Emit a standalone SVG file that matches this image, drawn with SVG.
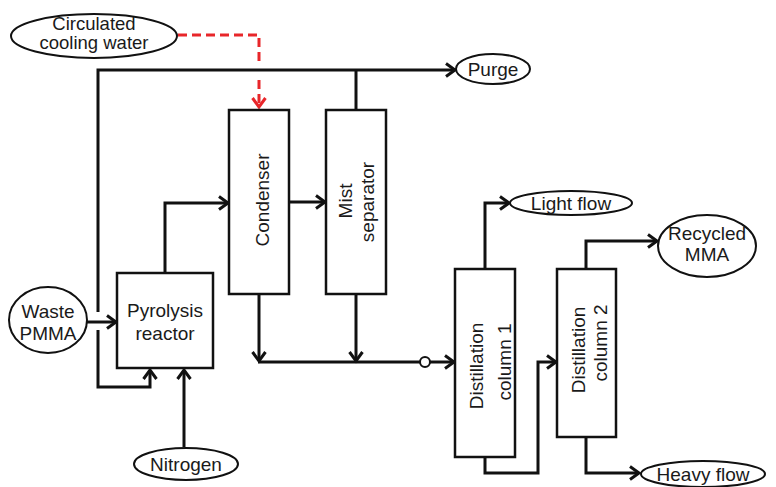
<svg xmlns="http://www.w3.org/2000/svg" width="776" height="487" viewBox="0 0 776 487">
<style>
.box{fill:#fff;stroke:#111;stroke-width:2.5}
.ell{fill:#fff;stroke:#111;stroke-width:2}
.t{font-family:"Liberation Sans",Arial,sans-serif;font-size:19px;fill:#1a1a1a;text-anchor:middle}
.ln{fill:none;stroke:#111;stroke-width:3;stroke-linejoin:miter}
.arr{fill:none;stroke:#111;stroke-width:3;marker-end:url(#ah)}
.red{fill:none;stroke:#e8262a;stroke-width:3;stroke-dasharray:9,5}
</style>
<defs>
<marker id="ah" markerUnits="userSpaceOnUse" markerWidth="16" markerHeight="16" refX="12" refY="8" orient="auto">
<path d="M3,1.5 L12,8 L3,14.5" fill="none" stroke="#111" stroke-width="3"/>
</marker>
<marker id="ahr" markerUnits="userSpaceOnUse" markerWidth="16" markerHeight="16" refX="12" refY="8" orient="auto">
<path d="M3,1.5 L12,8 L3,14.5" fill="none" stroke="#e8262a" stroke-width="3"/>
</marker>
</defs>
<g id="connectors">
<path class="red" d="M178,35 H259 V62"/>
<path d="M259,80 V107" fill="none" stroke="#e8262a" stroke-width="3" stroke-dasharray="9,5" marker-end="url(#ahr)"/>
<path class="arr" d="M98,312 V70 H455"/>
<path class="ln" d="M356,110 V70"/>
<path class="arr" d="M98,330 V387 H150 V370"/>
<path class="arr" d="M87,322 H116"/>
<path class="arr" d="M184,447 V370"/>
<path class="arr" d="M165,273 V203 H228"/>
<path class="arr" d="M289,202 H325"/>
<path class="arr" d="M259,294 V361"/>
<path class="arr" d="M356,294 V361"/>
<path class="ln" d="M258,362 H420"/>
<path class="arr" d="M430,362 H454"/>
<circle cx="425" cy="362" r="5" fill="#fff" stroke="#111" stroke-width="2"/>
<path class="arr" d="M485,269 V203 H509"/>
<path class="arr" d="M485,457 V473 H538 V362 H556"/>
<path class="arr" d="M586,269 V241 H657"/>
<path class="arr" d="M586,437 V473 H639"/>
</g>
<g id="cooling-water">
<ellipse class="ell" cx="94" cy="36" rx="83" ry="22"/>
<text class="t" x="94" y="29.5" style="font-size:18.5px">Circulated</text>
<text class="t" x="94" y="49" style="font-size:18.5px">cooling water</text>
</g>
<g id="purge">
<ellipse class="ell" cx="493" cy="69" rx="37" ry="15"/>
<text class="t" x="493" y="76">Purge</text>
</g>
<g id="waste-pmma">
<ellipse class="ell" cx="48" cy="320" rx="39" ry="33"/>
<text class="t" x="48" y="318">Waste</text>
<text class="t" x="48" y="340">PMMA</text>
</g>
<g id="pyrolysis-reactor">
<rect class="box" x="117" y="273" width="96" height="95"/>
<text class="t" x="165" y="317">Pyrolysis</text>
<text class="t" x="165" y="340">reactor</text>
</g>
<g id="nitrogen">
<ellipse class="ell" cx="186" cy="464" rx="52" ry="16"/>
<text class="t" x="186" y="471">Nitrogen</text>
</g>
<g id="condenser">
<rect class="box" x="229" y="110" width="60" height="184"/>
<text class="t" transform="translate(269,200) rotate(-90)">Condenser</text>
</g>
<g id="mist-separator">
<rect class="box" x="326" y="110" width="60" height="184"/>
<text class="t" transform="translate(352,201) rotate(-90)">Mist</text>
<text class="t" transform="translate(374,202) rotate(-90)">separator</text>
</g>
<g id="distillation-1">
<rect class="box" x="455" y="269" width="60" height="188"/>
<text class="t" transform="translate(483,366) rotate(-90)">Distillation</text>
<text class="t" transform="translate(511,362) rotate(-90)">column 1</text>
</g>
<g id="distillation-2">
<rect class="box" x="557" y="269" width="59" height="168"/>
<text class="t" transform="translate(585,350) rotate(-90)">Distillation</text>
<text class="t" transform="translate(607,343) rotate(-90)">column 2</text>
</g>
<g id="light-flow">
<ellipse class="ell" cx="571" cy="203" rx="61" ry="12"/>
<text class="t" x="571" y="210">Light flow</text>
</g>
<g id="recycled-mma">
<ellipse class="ell" cx="707" cy="246" rx="49" ry="31"/>
<text class="t" x="707" y="240">Recycled</text>
<text class="t" x="707" y="261">MMA</text>
</g>
<g id="heavy-flow">
<ellipse class="ell" cx="703" cy="474" rx="62" ry="13"/>
<text class="t" x="703" y="481">Heavy flow</text>
</g>
</svg>
